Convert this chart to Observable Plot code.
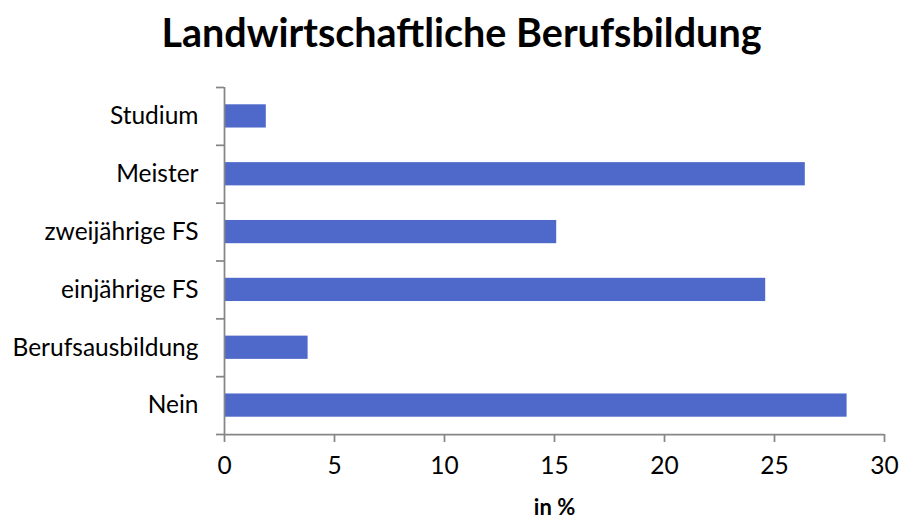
<!DOCTYPE html>
<html><head><meta charset="utf-8">
<script src="https://cdn.jsdelivr.net/npm/d3@7"></script>
<script src="https://cdn.jsdelivr.net/npm/@observablehq/plot@0.6"></script>
<style>
body{margin:0;background:#fff;}
#title{height:66px;width:901px;text-align:center;font-family:Lato,sans-serif;font-weight:bold;font-size:39.5px;line-height:64px;color:#000;box-sizing:border-box;padding-left:22px;}
</style>
</head><body>
<div id="title">Landwirtschaftliche Berufsbildung</div>
<div id="chart"></div>
<script>
const categories = ["Nein","Berufsausbildung","einjährige FS","zweijährige FS","Meister","Studium"];
const values = [28.3, 3.8, 24.6, 15.1, 26.4, 1.9];
const xTicks = [0,5,10,15,20,25,30];
const xLabel = "in %";

const data = categories.map((c,i)=>({cat:c, idx:i, value:values[i]}));
const boundaries = d3.range(categories.length+1);
const centers = categories.map((c,i)=>i+0.5);
const axisColor = "#868686";

const chart = Plot.plot({
  width: 901, height: 453,
  marginLeft: 224, marginRight: 17, marginTop: 21, marginBottom: 85,
  style: {fontFamily: "Lato, sans-serif", fontSize: "24.5px", color: "#000", background: "#fff"},
  x: {domain: [0,30]},
  y: {domain: [0, categories.length]},
  marks: [
    Plot.rectX(data, {x1: 0, x2: "value", y1: "idx", y2: d=>d.idx+1, insetTop: 17.3, insetBottom: 17.3, fill: "#4E69C9"}),
    Plot.ruleX([0], {stroke: axisColor, strokeWidth: 1.75}),
    Plot.ruleY([0], {stroke: axisColor, strokeWidth: 1.75}),
    Plot.axisY(boundaries, {tickSize: 8, tickFormat: ()=>"", stroke: axisColor, strokeWidth: 1.75, label: null}),
    Plot.axisY(centers, {tickSize: 0, tickPadding: 26, tickFormat: v => categories[Math.floor(v)], fill: "#000", label: null}),
    Plot.axisX(xTicks, {tickSize: 8, tickPadding: 14, stroke: axisColor, strokeWidth: 1.75, fill: "#000", label: null}),
    Plot.text([xLabel], {text: d=>d, frameAnchor: "bottom", dy: 80, fontWeight: "bold", fontSize: 22, fill: "#000"})
  ]
});
document.getElementById("chart").appendChild(chart);
</script>
</body></html>
